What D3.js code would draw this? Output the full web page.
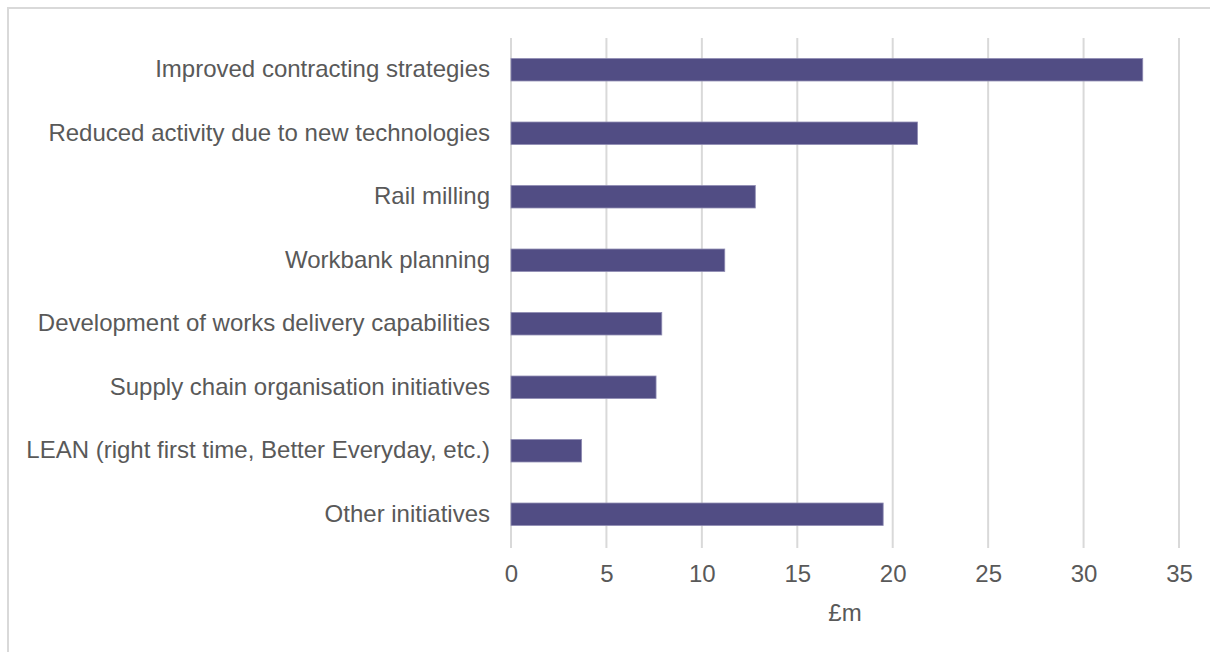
<!DOCTYPE html>
<html>
<head>
<meta charset="utf-8">
<script src="https://cdn.jsdelivr.net/npm/d3@7"></script>
<style>
  html, body { margin: 0; padding: 0; background: #fff; }
  svg { display: block; }
</style>
</head>
<body>
<svg id="chart" width="1210" height="652"></svg>
<script>
// Efficiency savings by initiative (£m)
const categories = [
  "Improved contracting strategies",
  "Reduced activity due to new technologies",
  "Rail milling",
  "Workbank planning",
  "Development of works delivery capabilities",
  "Supply chain organisation initiatives",
  "LEAN (right first time, Better Everyday, etc.)",
  "Other initiatives"
];
const values = [33.1, 21.3, 12.8, 11.2, 7.9, 7.6, 3.7, 19.5];
const xTicks = [0, 5, 10, 15, 20, 25, 30, 35];
const xTitle = "£m";

const svg = d3.select("#chart");
const W = 1210, H = 652;
const margin = { left: 511, right: 31, top: 38, bottom: 106 };

// Chart frame
svg.append("rect")
  .attr("x", 8).attr("y", 8)
  .attr("width", W + 20).attr("height", H + 20)
  .attr("fill", "#fff")
  .attr("stroke", "#d9d9d9")
  .attr("stroke-width", 2);

const x = d3.scaleLinear().domain([0, 35]).range([margin.left, W - margin.right]);
const y = d3.scaleBand().domain(categories).range([margin.top, H - margin.bottom]).paddingInner(0.646).paddingOuter(0.323);

const font = "'Liberation Sans', Arial, sans-serif";
const fontSize = 24;

// Vertical gridlines
svg.append("g")
  .selectAll("line")
  .data(xTicks)
  .join("line")
  .attr("x1", d => x(d)).attr("x2", d => x(d))
  .attr("y1", margin.top).attr("y2", H - margin.bottom + 2)
  .attr("stroke", "#d9d9d9")
  .attr("stroke-width", 2);

// Bars
svg.append("g")
  .selectAll("rect")
  .data(values)
  .join("rect")
  .attr("x", x(0))
  .attr("y", (d, i) => y(categories[i]))
  .attr("width", d => x(d) - x(0))
  .attr("height", y.bandwidth())
  .attr("fill", "#514d84")
  .attr("stroke", "#8f8cb3")
  .attr("stroke-width", 0.8);

// Category labels
const yAxis = d3.axisLeft(y).tickSize(0).tickPadding(21);
const yg = svg.append("g").attr("transform", `translate(${margin.left},0)`).call(yAxis);
yg.select(".domain").remove();
yg.selectAll("text")
  .attr("font-family", font)
  .attr("font-size", fontSize)
  .attr("fill", "#595959");

// Value axis tick labels
const xAxis = d3.axisBottom(x).tickValues(xTicks).tickSize(0).tickPadding(19);
const xg = svg.append("g").attr("transform", `translate(0,${H - margin.bottom})`).call(xAxis);
xg.select(".domain").remove();
xg.selectAll("text")
  .attr("font-family", font)
  .attr("font-size", fontSize)
  .attr("fill", "#595959");

// Axis title
svg.append("text")
  .attr("x", x(17.5))
  .attr("y", 621)
  .attr("text-anchor", "middle")
  .attr("font-family", font)
  .attr("font-size", fontSize)
  .attr("fill", "#595959")
  .text(xTitle);
</script>
</body>
</html>
